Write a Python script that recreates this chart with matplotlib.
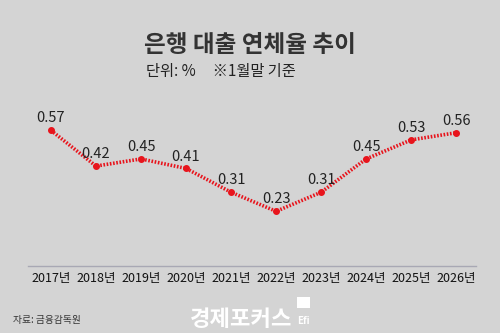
import matplotlib
matplotlib.use("Agg")
import matplotlib.pyplot as plt
from matplotlib.patches import Rectangle

plt.rcParams['font.family'] = ['Noto Sans CJK KR', 'DejaVu Sans']

years = ["2017년", "2018년", "2019년", "2020년", "2021년", "2022년", "2023년", "2024년", "2025년", "2026년"]
rates = [0.57, 0.42, 0.45, 0.41, 0.31, 0.23, 0.31, 0.45, 0.53, 0.56]
labels = ["0.57", "0.42", "0.45", "0.41", "0.31", "0.23", "0.31", "0.45", "0.53", "0.56"]

BG = "#d4d4d4"
fig = plt.figure(figsize=(5.0, 3.33), dpi=100, facecolor=BG)
ax = fig.add_axes([0.056, 0.201, 0.896, 0.572])
ax.set_facecolor(BG)

x = list(range(len(years)))
ax.plot(x, rates, color="#e8141c", lw=2.6, linestyle=(0, (0.45, 0.45)),
        solid_capstyle="butt", dash_capstyle="butt", zorder=2)
ax.plot(x, rates, linestyle="none", marker="o", ms=4, color="#e8141c", zorder=3)

for xi, v, t in zip(x, rates, labels):
    ax.annotate(t, (xi, v), xytext=(0, 3.5), textcoords="offset points",
                ha="center", va="bottom", fontsize=10.5, color="#222222")

ax.set_xlim(-0.51, 9.44)
ax.set_ylim(0, 0.8)
ax.set_xticks(x)
ax.set_xticklabels(years, fontsize=9, color="#111111")
ax.tick_params(axis="x", length=0, pad=4)
ax.set_yticks([])
for s in ["top", "right", "left"]:
    ax.spines[s].set_visible(False)
ax.spines["bottom"].set_color("#a8a8b4")
ax.spines["bottom"].set_linewidth(1.0)

fig.text(0.5, 0.865, "은행 대출 연체율 추이", ha="center", va="center",
         fontsize=17, fontweight="bold", color="#333333")
fig.text(0.292, 0.785, "단위: %     ※1월말 기준", ha="left", va="center",
         fontsize=11, color="#222222")
fig.text(0.026, 0.04, "자료: 금융감독원", ha="left", va="center",
         fontsize=7, color="#333333")
fig.text(0.38, 0.04, "경제포커스", ha="left", va="center",
         fontsize=16, fontweight="bold", color="white")
fig.patches.append(Rectangle((0.594, 0.075), 0.026, 0.033, transform=fig.transFigure,
                             facecolor="white", edgecolor="none"))
fig.text(0.607, 0.035, "Efi", ha="center", va="center", fontsize=7,
         fontweight="bold", color="white")

fig.savefig("out.png", dpi=100, facecolor=BG)
